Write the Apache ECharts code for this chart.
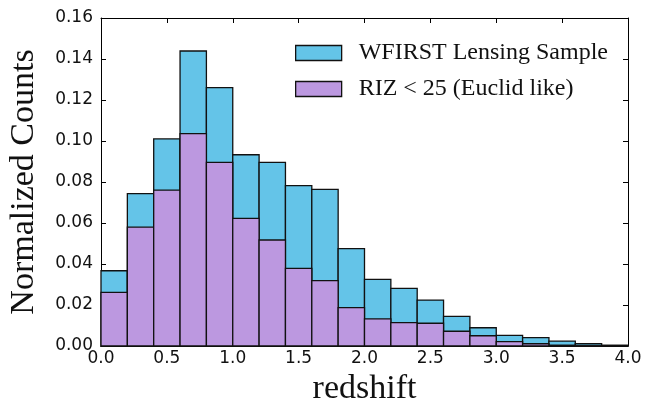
<!DOCTYPE html>
<html>
<head>
<meta charset="utf-8">
<script src="https://cdn.jsdelivr.net/npm/echarts@6/dist/echarts.min.js"></script>
<style>
html,body{margin:0;padding:0;background:#fff;}
#chart{width:660px;height:404px;}
</style>
</head>
<body>
<div id="chart"></div>
<script>
// Bin left edges (redshift), bin width 0.2
var binLeft = [0.0, 0.2, 0.4, 0.6, 0.8, 1.0, 1.2, 1.4, 1.6, 1.8, 2.0, 2.2, 2.4, 2.6, 2.8, 3.0, 3.2, 3.4, 3.6, 3.8];
var binRight = [0.2, 0.4, 0.6, 0.8, 1.0, 1.2, 1.4, 1.6, 1.8, 2.0, 2.2, 2.4, 2.6, 2.8, 3.0, 3.2, 3.4, 3.6, 3.8, 4.0];
var wfirstCounts = [0.0367, 0.0743, 0.101, 0.1439, 0.126, 0.0933, 0.0896, 0.0782, 0.0764, 0.0475, 0.0325, 0.0281, 0.0224, 0.0145, 0.0089, 0.0052, 0.0041, 0.0024, 0.0011, 0.0004];
var euclidCounts = [0.0262, 0.058, 0.076, 0.1036, 0.0896, 0.0623, 0.0517, 0.0379, 0.0319, 0.0187, 0.0132, 0.0114, 0.0111, 0.0072, 0.005, 0.0021, 0.0011, 0.0004, 0.0001, 0.0];
var seriesNames = ['WFIRST Lensing Sample', 'RIZ < 25 (Euclid like)'];
var xTicks = [0.0, 0.5, 1.0, 1.5, 2.0, 2.5, 3.0, 3.5, 4.0];
var yTicks = [0.00, 0.02, 0.04, 0.06, 0.08, 0.10, 0.12, 0.14, 0.16];

var cyan = '#64c4e8';
var purple = '#bc98e0';

function toData(vals) {
  return vals.map(function (v, i) { return [binLeft[i], binRight[i], v]; });
}

function renderBar(params, api) {
  var p0 = api.coord([api.value(0), api.value(2)]);
  var p1 = api.coord([api.value(1), 0]);
  return {
    type: 'rect',
    shape: { x: p0[0], y: p0[1], width: p1[0] - p0[0], height: p1[1] - p0[1] },
    style: { fill: api.visual('color'), stroke: '#111', lineWidth: 1.3 }
  };
}

var chart = echarts.init(document.getElementById('chart'), null, { renderer: 'canvas' });

var tickLabel = { color: '#111', fontFamily: 'DejaVu Sans', fontSize: 17 };
var axisLine = { show: true, onZero: false, lineStyle: { color: '#000', width: 1 } };
var axisTick = { show: true, inside: true, length: 5, lineStyle: { color: '#000', width: 1 } };

chart.setOption({
  animation: false,
  backgroundColor: '#fff',
  grid: { left: 101, top: 18, width: 527, height: 328, containLabel: false, outerBoundsMode: 'none' },
  legend: {
    orient: 'vertical',
    left: 295,
    top: 41,
    padding: 0,
    itemWidth: 46,
    itemHeight: 15,
    itemGap: 12,
    selectedMode: false,
    textStyle: { fontFamily: 'Liberation Serif', fontSize: 24, color: '#111', padding: [0, 0, 0, 12] },
    data: [
      { name: seriesNames[0], icon: 'rect', itemStyle: { color: cyan, borderColor: '#111', borderWidth: 1.3 } },
      { name: seriesNames[1], icon: 'rect', itemStyle: { color: purple, borderColor: '#111', borderWidth: 1.3 } }
    ]
  },
  xAxis: [{
    type: 'value', min: 0, max: 4, interval: 0.5,
    axisLine: axisLine, axisTick: axisTick, splitLine: { show: false },
    axisLabel: Object.assign({ margin: 4, formatter: function (v) { return v.toFixed(1); } }, tickLabel),
    name: 'redshift', nameLocation: 'middle', nameGap: 23,
    nameTextStyle: { fontFamily: 'Liberation Serif', fontSize: 34, color: '#111' }
  }, {
    type: 'value', min: 0, max: 4, interval: 0.5, position: 'top',
    axisLine: axisLine, axisTick: axisTick, splitLine: { show: false }, axisLabel: { show: false }
  }],
  yAxis: [{
    type: 'value', min: 0, max: 0.16, interval: 0.02,
    axisLine: axisLine, axisTick: axisTick, splitLine: { show: false },
    axisLabel: Object.assign({ margin: 8, formatter: function (v) { return v.toFixed(2); } }, tickLabel),
    name: 'Normalized Counts', nameLocation: 'middle', nameGap: 60, nameRotate: 90,
    nameTextStyle: { fontFamily: 'Liberation Serif', fontSize: 34, color: '#111' }
  }, {
    type: 'value', min: 0, max: 0.16, interval: 0.02, position: 'right',
    axisLine: axisLine, axisTick: axisTick, splitLine: { show: false }, axisLabel: { show: false }
  }],
  series: [{
    name: seriesNames[0], type: 'custom', renderItem: renderBar,
    itemStyle: { color: cyan },
    encode: { x: [0, 1], y: 2 },
    data: toData(wfirstCounts), z: 2
  }, {
    name: seriesNames[1], type: 'custom', renderItem: renderBar,
    itemStyle: { color: purple },
    encode: { x: [0, 1], y: 2 },
    data: toData(euclidCounts), z: 3
  }]
});
</script>
</body>
</html>
